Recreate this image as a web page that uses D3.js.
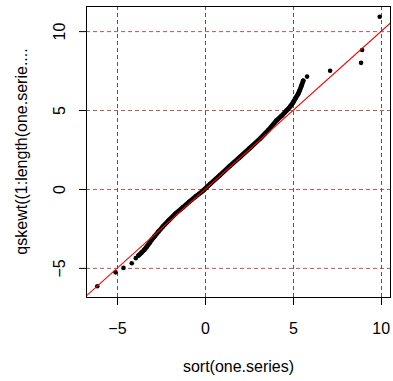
<!DOCTYPE html>
<html>
<head>
<meta charset="utf-8">
<script src="https://cdn.jsdelivr.net/npm/d3@7"></script>
<style>
  body { margin: 0; background: #fff; }
  text { font-family: "Liberation Sans", Arial, sans-serif; fill: #000; }
</style>
</head>
<body>
<div id="chart"></div>
<script>
// sample quantiles (x) vs theoretical skew-t quantiles (y)
const sampleQ = [-6.12, -5.08, -4.63, -4.16, -3.93,
  -3.78, -3.62, -3.45, -3.30, -3.16, -3.02, -2.88, -2.65, -2.40, -2.05, -1.65, -1.25,
  -0.89, -0.50, -0.13, 0.30, 0.85, 1.40, 1.99, 2.55, 3.13, 3.60, 4.07, 4.35, 4.64,
  4.85, 5.02, 5.15, 5.30, 5.40, 5.49, 5.59,
  5.81, 7.12, 8.88, 8.94, 9.94]
const theoQ = [-6.13, -5.25, -4.97, -4.67, -4.35,
  -4.18, -4.02, -3.83, -3.62, -3.40, -3.18, -2.99, -2.68, -2.36, -1.95, -1.51, -1.13,
  -0.78, -0.42, -0.10, 0.35, 0.90, 1.47, 2.05, 2.62, 3.21, 3.75, 4.37, 4.65, 5.00,
  5.25, 5.52, 5.78, 6.05, 6.30, 6.57, 6.89,
  7.15, 7.52, 8.02, 8.84, 10.94]
// the dense part of the sample (drawn as a band)
const bandFrom = 5, bandTo = 36
const xTicks = [-5, 0, 5, 10]
const yTicks = [-5, 0, 5, 10]
const xLabel = "sort(one.series)"
const yLabel = "qskewt((1:length(one.serie...."

const width = 393, height = 381
const box = { left: 86, right: 391, top: 6, bottom: 297 }

const svg = d3.select("#chart").append("svg")
  .attr("width", width).attr("height", height)

// R-style 4% padding around data range
const padX = (d3.max(sampleQ) - d3.min(sampleQ)) * 0.04
const padY = (d3.max(theoQ) - d3.min(theoQ)) * 0.04
const x = d3.scaleLinear()
  .domain([d3.min(sampleQ) - padX, d3.max(sampleQ) + padX])
  .range([box.left, box.right])
const y = d3.scaleLinear()
  .domain([d3.min(theoQ) - padY, d3.max(theoQ) + padY])
  .range([box.bottom, box.top])

svg.append("clipPath").attr("id", "clip")
  .append("rect")
  .attr("x", box.left).attr("y", box.top)
  .attr("width", box.right - box.left).attr("height", box.bottom - box.top)

// grid
const gridCol = "#b23535"
svg.selectAll("line.vgrid").data(xTicks).enter().append("line")
  .attr("class", "vgrid")
  .attr("x1", d => Math.round(x(d)) + 0.5).attr("x2", d => Math.round(x(d)) + 0.5)
  .attr("y1", box.top).attr("y2", box.bottom)
  .attr("stroke", gridCol).attr("stroke-dasharray", "4,3")
svg.selectAll("line.hgrid").data(yTicks).enter().append("line")
  .attr("class", "hgrid")
  .attr("y1", d => y(d)).attr("y2", d => y(d))
  .attr("x1", box.left).attr("x2", box.right)
  .attr("stroke", gridCol).attr("stroke-opacity", 0.85).attr("stroke-dasharray", "4,3")

const pts = sampleQ.map((v, i) => [v, theoQ[i]])
const plot = svg.append("g").attr("clip-path", "url(#clip)")

// dense band
plot.append("path")
  .datum(pts.slice(bandFrom, bandTo + 1))
  .attr("d", d3.line().x(d => x(d[0])).y(d => y(d[1])))
  .attr("fill", "none").attr("stroke", "#000")
  .attr("stroke-width", 4.8).attr("stroke-linejoin", "round").attr("stroke-linecap", "round")

plot.selectAll("circle").data(pts).enter().append("circle")
  .attr("cx", d => x(d[0])).attr("cy", d => y(d[1]))
  .attr("r", 2.3).attr("fill", "#000")

// reference line y = x
const xd = x.domain()
plot.append("line")
  .attr("x1", x(xd[0])).attr("y1", y(xd[0]))
  .attr("x2", x(xd[1])).attr("y2", y(xd[1]))
  .attr("stroke", "#ff0000").attr("stroke-width", 1.1)

// box
svg.append("rect")
  .attr("x", box.left + 0.5).attr("y", box.top + 0.5)
  .attr("width", box.right - box.left - 1).attr("height", box.bottom - box.top)
  .attr("fill", "none").attr("stroke", "#000")

// axes (R style: ticks outward, y labels parallel to the axis)
const fmt = d => d < 0 ? "\u2212" + Math.abs(d) : String(d)

svg.selectAll("line.xtick").data(xTicks).enter().append("line")
  .attr("x1", d => Math.round(x(d)) + 0.5).attr("x2", d => Math.round(x(d)) + 0.5)
  .attr("y1", box.bottom).attr("y2", box.bottom + 8)
  .attr("stroke", "#000")
svg.selectAll("text.xtick").data(xTicks).enter().append("text")
  .attr("x", d => x(d) + 0.5).attr("y", 334)
  .attr("text-anchor", "middle").attr("font-size", 16)
  .text(fmt)

svg.selectAll("line.ytick").data(yTicks).enter().append("line")
  .attr("y1", d => y(d)).attr("y2", d => y(d))
  .attr("x1", box.left - 7).attr("x2", box.left)
  .attr("stroke", "#000")
svg.selectAll("text.ytick").data(yTicks).enter().append("text")
  .attr("transform", d => `translate(64.5,${y(d)}) rotate(-90)`)
  .attr("text-anchor", "middle").attr("font-size", 16)
  .text(fmt)

svg.append("text")
  .attr("x", (box.left + box.right) / 2).attr("y", 372)
  .attr("text-anchor", "middle").attr("font-size", 16)
  .text(xLabel)

svg.append("text")
  .attr("transform", `translate(27,${(box.top + box.bottom) / 2}) rotate(-90)`)
  .attr("text-anchor", "middle").attr("font-size", 16)
  .text(yLabel)
</script>
</body>
</html>
